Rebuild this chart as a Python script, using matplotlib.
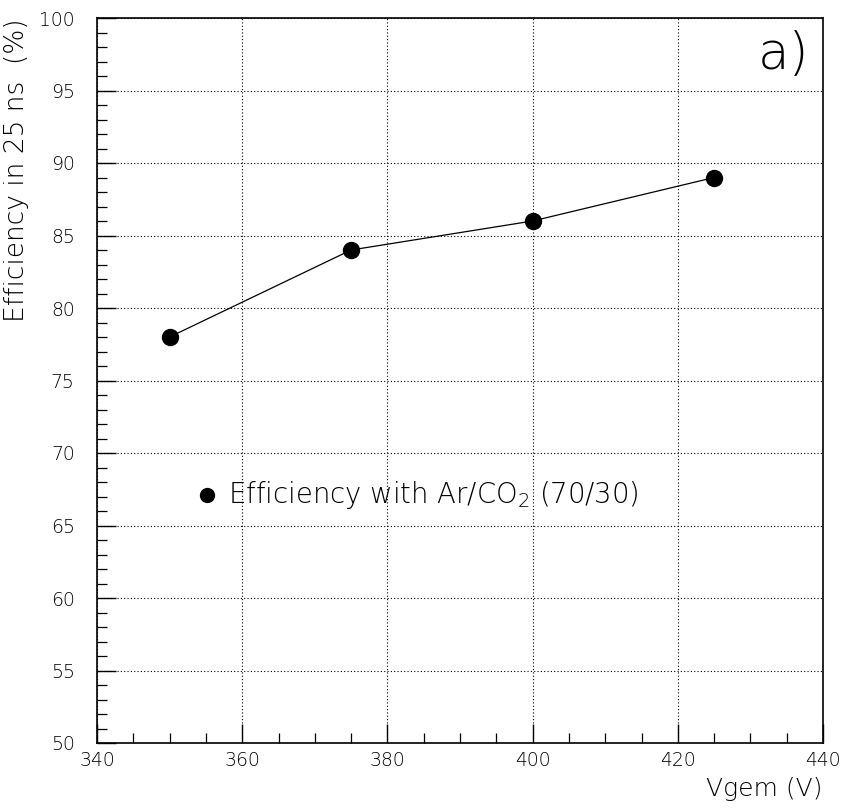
import matplotlib
matplotlib.use("Agg")
import matplotlib.pyplot as plt
from matplotlib.ticker import MultipleLocator

vgem = [350, 375, 400, 425]
efficiency = [78, 84, 86, 89]

plt.rcParams['font.family'] = ['DejaVu Sans']
plt.rcParams['font.weight'] = 200
plt.rcParams['axes.labelweight'] = 200
plt.rcParams['mathtext.fontset'] = 'custom'
plt.rcParams['mathtext.rm'] = 'DejaVu Sans:light'

fig = plt.figure(figsize=(8.44, 8.10), dpi=100)
ax = fig.add_axes([97/844, 67/810, 726/844, 725/810])

ax.plot(vgem, efficiency, color='black', lw=0.9, marker='o', ms=11.5,
        markerfacecolor='black', markeredgecolor='black')

ax.set_xlim(340, 440)
ax.set_ylim(50, 100)
ax.xaxis.set_major_locator(MultipleLocator(20))
ax.xaxis.set_minor_locator(MultipleLocator(5))
ax.yaxis.set_major_locator(MultipleLocator(5))
ax.yaxis.set_minor_locator(MultipleLocator(1))
ax.tick_params(which='both', direction='in', top=False, right=False,
               labelsize=13.5, colors='black')
ax.tick_params(which='major', length=14, width=1.0)
ax.tick_params(which='minor', length=7, width=0.9)
ax.tick_params(axis='x', pad=6)
ax.tick_params(axis='y', pad=16)
ax.grid(True, which='major', linestyle=(0, (1, 2)), color='black', lw=0.8)
for s in ax.spines.values():
    s.set_linewidth(1.2)

ax.set_xlabel('Vgem (V)', fontsize=18, fontweight=200, loc='right', labelpad=5)
ax.set_ylabel('Efficiency in 25 ns  (%)', fontsize=19, fontweight=200,
              loc='top', labelpad=7)

ax.plot([355.2], [67.1], marker='o', ms=10, color='black', linestyle='none')
ax.text(358.0, 67.1, 'Efficiency with Ar/CO$_\\mathrm{2}$ (70/30)', fontsize=19.8,
        va='center', ha='left')

ax.text(0.945, 0.95, 'a)', transform=ax.transAxes, fontsize=37,
        ha='center', va='center')

fig.savefig('out.png', dpi=100)
